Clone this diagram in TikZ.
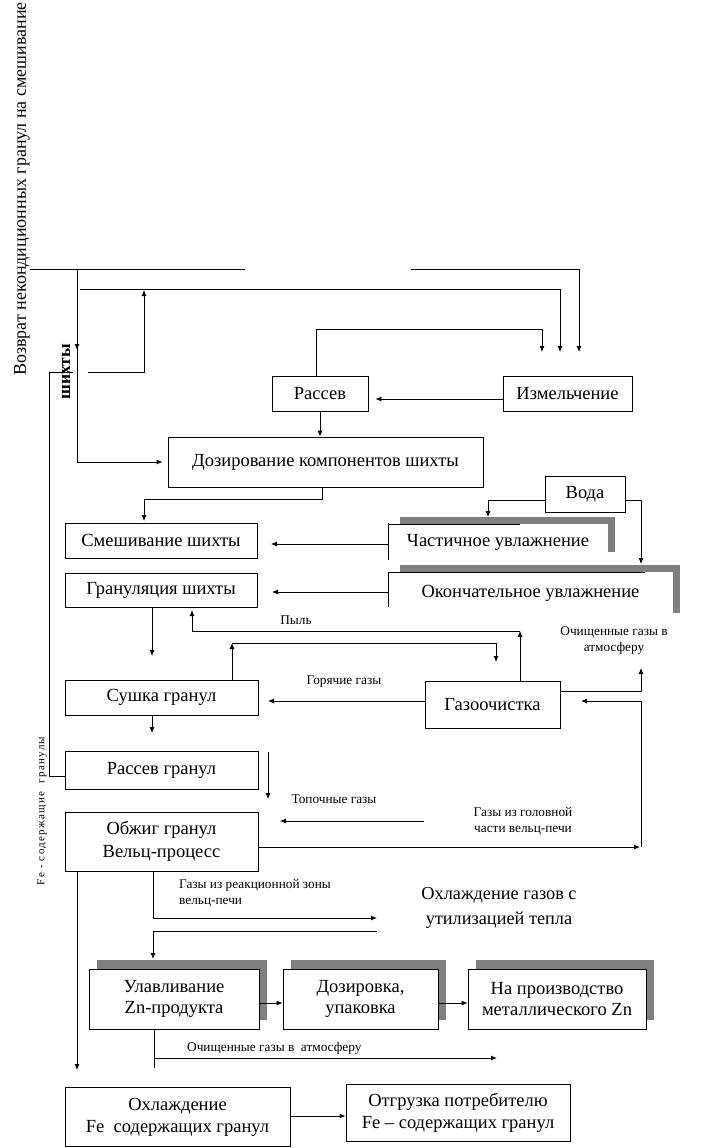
\documentclass[tikz,border=0pt]{standalone}
\usepackage{fontspec}
\setmainfont{Liberation Serif}
\usetikzlibrary{arrows.meta}
\begin{document}
\begin{tikzpicture}[x=1pt,y=-1pt,
  box/.style={draw, line width=0.8pt, fill=white, inner sep=0pt, align=center, font=\fontsize{18.5}{22}\selectfont},
  plain/.style={fill=white, inner sep=0pt, align=center, font=\fontsize{18.5}{22}\selectfont},
  lbl/.style={inner sep=0pt, align=center, font=\fontsize{13.3}{16}\selectfont},
  big/.style={inner sep=0pt, align=center, font=\fontsize{18.3}{25}\selectfont},
  ln/.style={line width=0.8pt},
  arr/.style={line width=0.8pt, -{Latex[length=6pt,width=5pt]}},
  shade/.style={fill=black!50, draw=none}]
\useasboundingbox (0,0) rectangle (701,1148);

% ---------- boxes ----------
\node[box, minimum width=96pt, minimum height=35pt] (rassev) at (320,393.5) {Рассев};
\node[box, minimum width=129pt, minimum height=35pt] (izm) at (567.5,393.5) {Измельчение};
\node[box, minimum width=315pt, minimum height=50pt] (doz) at (325.5,462) {Дозирование компонентов шихты};
\node[box, minimum width=80pt, minimum height=36pt] (voda) at (585,494) {Вода};
\node[box, minimum width=192pt, minimum height=35pt] (smesh) at (161,540.5) {Смешивание шихты};
\node[box, minimum width=192pt, minimum height=34pt] (gran) at (161,590) {Грануляция шихты};
\node[box, minimum width=193pt, minimum height=35pt] (sushka) at (161.5,697.5) {Сушка гранул};
\node[box, minimum width=135pt, minimum height=47pt] (gazo) at (492.5,704.5) {Газоочистка};
\node[box, minimum width=193pt, minimum height=38pt] (rassevg) at (161.5,770) {Рассев гранул};
\node[box, minimum width=193pt, minimum height=59pt, font=\fontsize{18.5}{23}\selectfont] (obzhig) at (161.5,841.5) {Обжиг гранул\\Вельц-процесс};

% partial boxes with shadow
\fill[shade] (400,517) rectangle (615,552);
\node[plain, minimum width=220pt, minimum height=36pt] (chast) at (498,542) {Частичное увлажнение};
\draw[ln] (388,523) -- (388,560);
\draw[ln] (388,524) -- (520,524);

\fill[shade] (400,565) rectangle (680,613);
\node[plain, minimum width=285pt, minimum height=42pt] (okon) at (530.5,593) {Окончательное увлажнение};
\draw[ln] (388,572) -- (388,607);
\draw[ln] (388,572) -- (645,572);

% shadowed boxes
\fill[shade] (97,960) rectangle (267,1020);
\node[box, minimum width=170pt, minimum height=60pt, font=\fontsize{18.5}{21}\selectfont] (ulav) at (174,999) {Улавливание\\Zn-продукта};
\fill[shade] (291,960) rectangle (446,1020);
\node[box, minimum width=155pt, minimum height=60pt, font=\fontsize{18.5}{21}\selectfont] (dozir) at (360.5,999) {Дозировка,\\упаковка};
\fill[shade] (476,960) rectangle (654,1020);
\node[box, minimum width=178pt, minimum height=60pt, font=\fontsize{18.5}{21}\selectfont] (napr) at (557,999) {На производство\\металлического Zn};

\node[box, minimum width=225pt, minimum height=59pt] (ohl) at (177.5,1117) {Охлаждение\\Fe\ \ содержащих гранул};
\node[box, minimum width=224pt, minimum height=57pt] (otgr) at (458,1112.5) {Отгрузка потребителю\\Fe – содержащих гранул};

% ---------- free texts ----------
\node[inner sep=0pt, rotate=90, font=\fontsize{18}{20}\selectfont] (vozvrat) at (22,189) {Возврат некондиционных гранул на смешивание};
\node[inner sep=0pt, rotate=90, font=\fontsize{17.5}{19}\selectfont\bfseries] (shihty) at (66,372) {шихты};
\node[inner sep=0pt, rotate=90, font=\fontsize{11}{13}\selectfont\addfontfeature{LetterSpace=12}] (fegr) at (42,811) {Fe - содержащие\ \ гранулы};
\node[lbl] (pyl) at (296,620) {Пыль};
\node[lbl] (ochatm) at (614,641) {Очищенные газы в\\атмосферу};
\node[lbl] (gorgaz) at (344,682) {Горячие газы};
\node[lbl] (topgaz) at (334,799) {Топочные газы};
\node[lbl] (golov) at (523,821) {Газы из головной\\части вельц-печи};
\node[lbl, align=left, anchor=west] (reakc) at (179,893) {Газы из реакционной зоны\\вельц-печи};
\node[big] (ohlgaz) at (499,908) {Охлаждение газов с\\утилизацией тепла};
\node[lbl, anchor=west] (ochatm2) at (187,1048) {Очищенные газы в\ \ атмосферу};

% ---------- connectors ----------
\coordinate (tl) at (30,269);
\coordinate (tlend) at (245,269);
\draw[ln] (tl) -- (tlend);
\draw[arr] (77,269) -- (77,350);
\draw[arr, shorten >=5pt] (77,345) |- (doz.west);
\draw[arr] (411,269) -- (579,269) -- (579,352);
\draw[arr] (80,289) -- (560,289) -- (560,352);
\draw[ln] (49,372) -- (73,372);
\draw[arr] (88,372) -- (144,372) -- (144,290);
\draw[ln] (49,372) -- (49,776) -- (rassevg.west |- 49,776);
\draw[arr] (rassev.north -| 316,0) -- (316,329) -- (542,329) -- (542,352);
\draw[arr, shorten >=7pt] (izm.west |- 0,399) -- (rassev.east |- 0,399);
\draw[arr] (rassev.south -| 320,0) -- (doz.north -| 320,0);
\draw[arr] (doz.south -| 322,0) -- (322,499) -- (144,499) -- (144,521);
\draw[arr] (voda.west |- 0,500) -- (488,500) -- (488,517);
\draw[arr] (voda.east |- 0,500) -- (641,500) -- (641,564);
\draw[arr] (chast.west |- 0,544) -- (271,544);
\draw[arr] (okon.west |- 0,592) -- (272,592);
\draw[arr] (gran.south -| 152,0) -- (152,656);
\draw[arr] (gazo.north -| 520,0) -- (520,631);
\draw[arr] (520,631) -- (192,631) -- (192,610);
\draw[arr] (sushka.north -| 232,0) -- (232,643);
\draw[arr] (232,643) -- (496,643) -- (496,662);
\draw[arr] (gazo.west |- 0,701) -- (268,701);
\draw[arr] (gazo.east |- 0,691) -- (641,691) -- (641,668);
\draw[arr] (sushka.south -| 152,0) -- (152,733);
\draw[arr] (268,752) -- (268,799);
\draw[arr] (424,821) -- (280,821);
\draw[arr] (obzhig.east |- 0,847) -- (640,847);
\draw[arr] (641,847) -- (641,701) -- (581,701);
\draw[arr] (obzhig.south -| 153,0) -- (153,918) -- (377,918);
\draw[arr] (377,931) -- (153,931) -- (153,959);
\draw[arr] (ulav.east |- 0,1003) -- (dozir.west |- 0,1003);
\draw[arr] (dozir.east |- 0,1003) -- (napr.west |- 0,1003);
\draw[ln] (ulav.south -| 154,0) -- (154,1068);
\draw[arr] (154,1058) -- (497,1058);
\draw[arr] (obzhig.south -| 77,0) -- (77,1070);
\draw[arr] (ohl.east |- 0,1116) -- (otgr.west |- 0,1116);
\end{tikzpicture}
\end{document}
